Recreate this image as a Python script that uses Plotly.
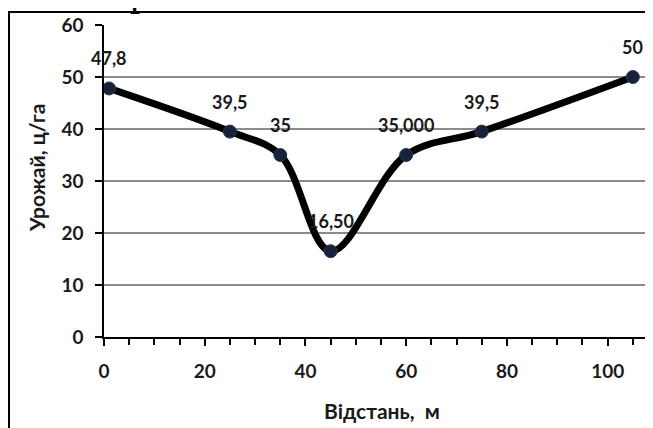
import plotly.graph_objects as go

# ---- data ----
distance = [1, 25, 35, 45, 60, 75, 105]
yield_vals = [47.8, 39.5, 35, 16.5, 35, 39.5, 50]
point_labels = ["47,8", "39,5", "35", "16,50", "35,000", "39,5", "50"]
x_tick_vals = [0, 20, 40, 60, 80, 100]
y_tick_vals = [0, 10, 20, 30, 40, 50, 60]
x_title = "Відстань,\u00a0 м"
y_title = "Урожай, ц/га"
cut_text = "р"  # cut-off glyph of the caption above the chart

# page is offset by the default 8px body margin
OFF = 8
W, H = 653 - OFF, 428 - OFF
L, R, T, B = 104 - OFF, 0, 25 - OFF, 91
PW = W - L - R
PH = H - T - B


def px_x(p):
    return (p - OFF - L) / PW


def px_y(p):
    return (H - B - (p - OFF)) / PH


FONT = dict(family="Lato, 'Open Sans', sans-serif", size=18, color="#1a1a1a", weight=700)
TICKFONT = dict(family="Lato, 'Open Sans', sans-serif", size=19, color="#1a1a1a", weight=700)
TFONT = dict(family="Lato, 'Open Sans', sans-serif", size=21, color="#1a1a1a", weight=700)

fig = go.Figure()
fig.add_trace(go.Scatter(
    x=distance, y=yield_vals,
    mode="lines+markers",
    line=dict(color="black", width=7, shape="spline", smoothing=1),
    marker=dict(size=13, color="#17213a", line=dict(color="#2b3754", width=1)),
    hoverinfo="skip",
    showlegend=False,
    cliponaxis=False,
))

annotations = []
for xv, yv, lab in zip(distance, yield_vals, point_labels):
    annotations.append(dict(
        x=xv, y=yv, xref="x", yref="y", text=lab, showarrow=False,
        yshift=30, font=FONT, xanchor="center", yanchor="middle",
    ))

annotations.append(dict(
    x=px_x(36), y=px_y(168), xref="paper", yref="paper", text=y_title,
    textangle=-90, showarrow=False, font=TFONT,
    xanchor="center", yanchor="middle",
))
annotations.append(dict(
    x=px_x(381.5), y=px_y(410), xref="paper", yref="paper", text=x_title,
    showarrow=False, font=TFONT, xanchor="center", yanchor="middle",
))
annotations.append(dict(
    x=px_x(140), y=px_y(16), xref="paper", yref="paper", text=cut_text,
    showarrow=False, xanchor="center", yanchor="bottom",
    font=dict(family="Liberation Serif, serif", size=40, color="black"),
))

fig.update_layout(
    width=W, height=H,
    margin=dict(l=L, r=R, t=T, b=B, pad=0, autoexpand=False),
    paper_bgcolor="white", plot_bgcolor="white",
    annotations=annotations,
    shapes=[dict(
        type="rect", xref="paper", yref="paper",
        x0=px_x(9), x1=1.2, y0=-0.6, y1=px_y(12),
        line=dict(color="black", width=2), fillcolor="rgba(0,0,0,0)",
        layer="below",
    )],
    xaxis=dict(
        range=[0, 109], tickvals=x_tick_vals, automargin=False,
        ticks="outside", ticklen=7, tickwidth=1.5, tickcolor="black",
        showline=True, linecolor="black", linewidth=1.5,
        showgrid=False, zeroline=False, tickfont=TICKFONT,
        ticklabelstandoff=9,
        minor=dict(dtick=5, tick0=0, ticks="outside", ticklen=6,
                   tickwidth=1.5, tickcolor="black", showgrid=False),
    ),
    yaxis=dict(
        range=[0, 60], tickvals=y_tick_vals, automargin=False,
        ticks="outside", ticklen=7, tickwidth=1.5, tickcolor="black",
        showline=True, linecolor="black", linewidth=1.5,
        showgrid=True, gridcolor="#8c8c8c", gridwidth=1.5,
        zeroline=False, tickfont=TICKFONT, ticklabelstandoff=8,
    ),
)

fig.write_html("out.html")
